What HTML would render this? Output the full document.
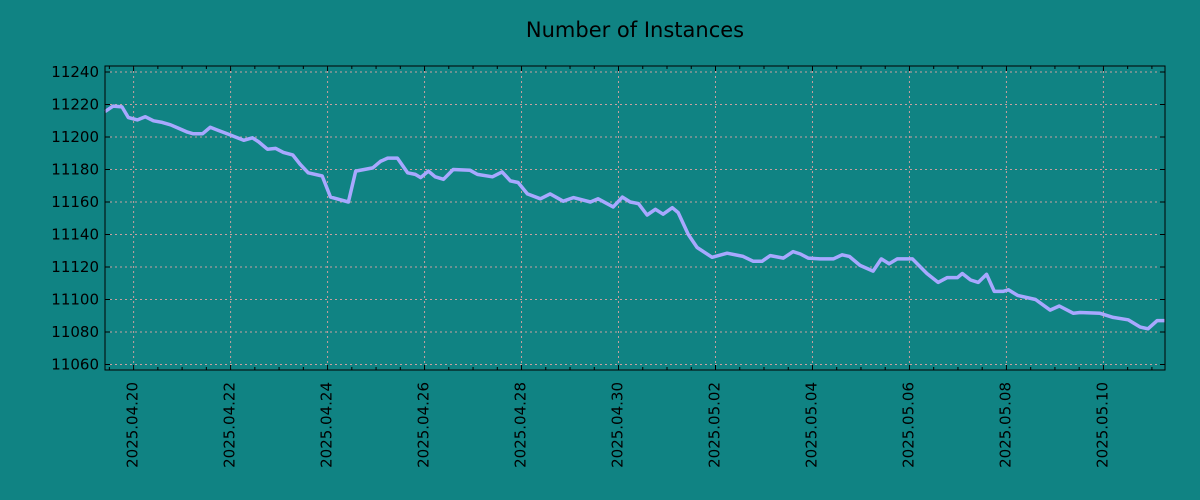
<!DOCTYPE html>
<html><head><meta charset="utf-8"><style>
body{margin:0;background:#108383;}
svg{display:block;font-family:"DejaVu Sans","Liberation Sans",sans-serif;}
</style></head><body>
<svg id="chart" width="1200" height="500">
<rect width="1200" height="500" fill="#108383"/>
<text x="635" y="37" font-size="21" text-anchor="middle" fill="#000">Number of Instances</text>
<g id="grid"></g><g id="ticks"></g><g id="series"></g>
<rect x="105" y="66" width="1060" height="304" fill="none" stroke="#000" stroke-width="1"/>
</svg>
<script>
const days=[-0.59,-0.42,-0.24,-0.11,0.08,0.24,0.41,0.59,0.76,0.92,1.11,1.23,1.42,1.58,1.75,1.93,2.10,2.27,2.45,2.58,2.76,2.93,3.09,3.28,3.44,3.60,3.89,4.06,4.43,4.58,4.93,5.09,5.24,5.44,5.65,5.81,5.92,6.08,6.22,6.39,6.59,6.94,7.09,7.40,7.60,7.77,7.93,8.12,8.39,8.59,8.86,9.07,9.42,9.58,9.89,10.08,10.24,10.41,10.59,10.76,10.92,11.11,11.23,11.44,11.62,11.93,12.24,12.57,12.78,12.96,13.13,13.40,13.60,13.75,13.91,14.16,14.43,14.61,14.76,14.98,15.25,15.42,15.58,15.75,16.06,16.36,16.59,16.78,16.99,17.09,17.26,17.42,17.59,17.75,17.93,18.04,18.23,18.60,18.90,19.09,19.38,19.52,19.93,20.20,20.51,20.76,20.92,21.11,21.27];
const values=[11215.6,11219,11218.5,11212,11210.5,11212.5,11210,11209,11207.5,11205.5,11203,11202,11202,11206,11204,11202,11200,11198,11199.5,11197,11192.5,11193,11190.5,11189,11183,11178,11176,11163,11160,11179,11181,11185,11187,11187,11178,11177,11175,11179,11175.5,11174,11180,11179.5,11177,11175.5,11178.5,11173,11172,11165,11162,11165,11160.5,11162.7,11160,11162,11157,11163,11160,11159,11152,11155.5,11152.5,11156.5,11153.5,11140,11132,11126,11128.5,11126.5,11123.5,11123.5,11127,11125.5,11129.5,11128,11125.5,11125,11125,11127.5,11126.5,11121,11117.5,11125,11122,11125,11125,11116,11110.5,11113.5,11113.5,11116,11112,11110.5,11115.5,11105,11105,11106,11102.5,11100,11093.5,11096,11091.5,11092,11091.5,11089,11087.5,11083,11082,11087,11087];
const yTicks=[11060,11080,11100,11120,11140,11160,11180,11200,11220,11240];
const xTickDays=[0,2,4,6,8,10,12,14,16,18,20];
const xTickLabels=["2025.04.20","2025.04.22","2025.04.24","2025.04.26","2025.04.28","2025.04.30","2025.05.02","2025.05.04","2025.05.06","2025.05.08","2025.05.10"];
const NS="http://www.w3.org/2000/svg";
const L=105,R=1165,T=66,B=370,D0=-0.59,D1=21.27;
const xs=d=>L+(d-D0)/(D1-D0)*(R-L);
const ys=v=>72+(11240-v)*(32.5/20);
function mk(tag,attrs,parent){const e=document.createElementNS(NS,tag);for(const k in attrs)e.setAttribute(k,attrs[k]);parent.appendChild(e);return e;}
const grid=document.getElementById('grid'),ticks=document.getElementById('ticks'),series=document.getElementById('series');
yTicks.forEach(v=>{const y=ys(v);
 const g=mk('line',{x1:L,x2:R,y1:y,y2:y,stroke:'#c8a0a0','stroke-width':1,'stroke-dasharray':'2,3'},grid);
 
 
 mk('line',{x1:L,x2:L+5,y1:y,y2:y,stroke:'#000'},ticks);
 mk('line',{x1:R-5,x2:R,y1:y,y2:y,stroke:'#000'},ticks);
 const t=mk('text',{x:L-6,y:y+5,'font-size':15,'text-anchor':'end',fill:'#000'},ticks);
 t.textContent=v;
 
 
});
for(let d=-0.5;d<=D1;d+=0.5){const x=xs(d);const major=xTickDays.includes(d);
 mk('line',{x1:x,x2:x,y1:B,y2:B-(major?5:3),stroke:'#000'},ticks);
 mk('line',{x1:x,x2:x,y1:T,y2:T+(major?5:3),stroke:'#000'},ticks);}
xTickDays.forEach((d,i)=>{const x=xs(d);
 const g=mk('line',{x1:x,x2:x,y1:T,y2:B,stroke:'#c8a0a0','stroke-width':1,'stroke-dasharray':'2,3'},grid);
 
 
 const t=mk('text',{x:0,y:0,'font-size':15,'text-anchor':'end',fill:'#000',transform:`translate(${x+4},${B+12}) rotate(-90)`},ticks);
 t.textContent=xTickLabels[i];
 
 
});
const pts=days.map((d,i)=>xs(d).toFixed(1)+','+ys(values[i]).toFixed(1)).join(' ');
const line=mk('polyline',{points:pts,fill:'none',stroke:'#a8a8ff','stroke-width':3.5,'stroke-linejoin':'round'},series);


</script>
</body></html>
